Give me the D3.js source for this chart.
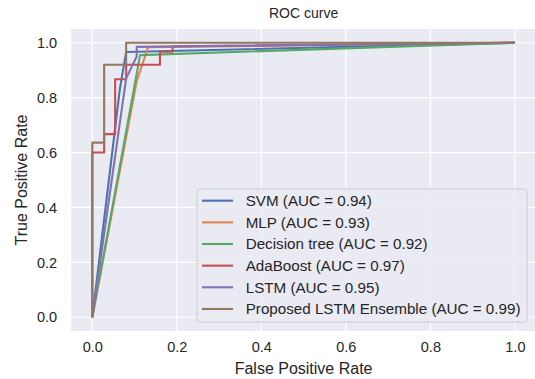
<!DOCTYPE html>
<html lang="en">
<head>
<meta charset="utf-8">
<title>ROC curve</title>
<style>
  body { margin: 0; padding: 0; background: #fff; }
  svg { display: block; font-family: "Liberation Sans", Arial, sans-serif; }
</style>
<script src="https://d3js.org/d3.v7.min.js"></script>
</head>
<body>
<div id="root"></div>
<script>
// data
var seriesNames = ["SVM", "MLP", "Decision tree", "AdaBoost", "LSTM", "Proposed LSTM Ensemble"];
var aucValues = [0.94, 0.93, 0.92, 0.97, 0.95, 0.99];
var svmFpr = [0, 0.065, 0.08, 1];
var svmTpr = [0, 0.83, 0.966, 1];
var mlpFpr = [0, 0.105, 0.132, 1];
var mlpTpr = [0, 0.86, 0.984, 1];
var dtFpr = [0, 0.113, 1];
var dtTpr = [0, 0.955, 1];
var adaFpr = [0, 0, 0.028, 0.028, 0.054, 0.054, 0.08, 0.08, 0.16, 0.16, 0.19, 0.19, 1];
var adaTpr = [0, 0.6, 0.6, 0.667, 0.667, 0.867, 0.867, 0.92, 0.92, 0.967, 0.967, 0.987, 1];
var lstmFpr = [0, 0.08, 0.105, 0.105, 1];
var lstmTpr = [0, 0.87, 0.95, 0.985, 1];
var ensFpr = [0, 0, 0.028, 0.028, 0.08, 0.08, 1];
var ensTpr = [0, 0.636, 0.636, 0.92, 0.92, 1, 1];
var tickValues = [0, 0.2, 0.4, 0.6, 0.8, 1.0];
var colors = ["#4C72B0", "#DD8452", "#55A868", "#C44E52", "#8172B3", "#937860"];

var curves = [[svmFpr, svmTpr], [mlpFpr, mlpTpr], [dtFpr, dtTpr],
              [adaFpr, adaTpr], [lstmFpr, lstmTpr], [ensFpr, ensTpr]];

var width = 535, height = 379;
var svg = d3.select("#root").append("svg")
    .attr("width", width)
    .attr("height", height);

var x = d3.scaleLinear().domain([-0.05, 1.05]).range([71.2, 536]);
var y = d3.scaleLinear().domain([-0.05, 1.05]).range([331, 29]);

svg.append("rect")
    .attr("x", x(-0.05)).attr("y", y(1.05))
    .attr("width", x(1.05) - x(-0.05))
    .attr("height", y(-0.05) - y(1.05))
    .attr("fill", "#EAEAF2");

// grid
svg.append("g").selectAll("line").data(tickValues).enter().append("line")
    .attr("x1", function(d) { return x(d); }).attr("x2", function(d) { return x(d); })
    .attr("y1", y(-0.05)).attr("y2", y(1.05))
    .attr("stroke", "#fff").attr("stroke-width", 1.2);
svg.append("g").selectAll("line").data(tickValues).enter().append("line")
    .attr("y1", function(d) { return y(d); }).attr("y2", function(d) { return y(d); })
    .attr("x1", x(-0.05)).attr("x2", x(1.05))
    .attr("stroke", "#fff").attr("stroke-width", 1.2);

// axes (labels only, seaborn darkgrid has no tick marks)
var xAxis = svg.append("g")
    .attr("transform", "translate(0," + y(-0.05) + ")")
    .call(d3.axisBottom(x).tickValues(tickValues).tickFormat(d3.format(".1f")).tickSize(0).tickPadding(11));
var yAxis = svg.append("g")
    .attr("transform", "translate(" + x(-0.05) + ",0)")
    .call(d3.axisLeft(y).tickValues(tickValues).tickFormat(d3.format(".1f")).tickSize(0).tickPadding(14));
[xAxis, yAxis].forEach(function(a) {
  a.select(".domain").remove();
  a.selectAll("text").attr("fill", "#262626").style("font-size", "14.5px")
      .style("font-family", "'Liberation Sans', Arial, sans-serif");
});

// curves
var line = d3.line()
    .x(function(d) { return x(d[0]); })
    .y(function(d) { return y(d[1]); });

svg.append("g").selectAll("path").data(curves).enter().append("path")
    .attr("d", function(c) { return line(d3.zip(c[0], c[1])); })
    .attr("fill", "none")
    .attr("stroke", function(c, i) { return colors[i]; })
    .attr("stroke-width", 2.1)
    .attr("stroke-linejoin", "round");

// titles
svg.append("text")
    .attr("x", (x(-0.05) + x(1.05)) / 2).attr("y", 18)
    .attr("text-anchor", "middle")
    .style("font-size", "14px").attr("fill", "#262626")
    .text("ROC curve");
svg.append("text")
    .attr("x", (x(-0.05) + x(1.05)) / 2).attr("y", 374)
    .attr("text-anchor", "middle")
    .style("font-size", "16px").attr("fill", "#262626")
    .text("False Positive Rate");
svg.append("text")
    .attr("transform", "translate(27," + (y(0.5)) + ") rotate(-90)")
    .attr("text-anchor", "middle")
    .style("font-size", "16px").attr("fill", "#262626")
    .text("True Positive Rate");

// legend
var legend = svg.append("g");
legend.append("rect")
    .attr("x", 197).attr("y", 189).attr("width", 330).attr("height", 133)
    .attr("rx", 3)
    .attr("fill", "#EAEAF2").attr("fill-opacity", 0.8)
    .attr("stroke", "#CCCCCC").attr("stroke-width", 1);
var items = legend.selectAll("g.item").data(seriesNames).enter().append("g")
    .attr("transform", function(d, i) { return "translate(0," + (200.7 + i * 21.65) + ")"; });
items.append("line")
    .attr("x1", 202).attr("x2", 233)
    .attr("stroke", function(d, i) { return colors[i]; })
    .attr("stroke-width", 2.1);
items.append("text")
    .attr("x", 245.7).attr("dy", "0.35em")
    .style("font-size", "15.2px").attr("fill", "#262626")
    .text(function(d, i) { return d + " (AUC = " + aucValues[i].toFixed(2) + ")"; });
</script>
</body>
</html>
